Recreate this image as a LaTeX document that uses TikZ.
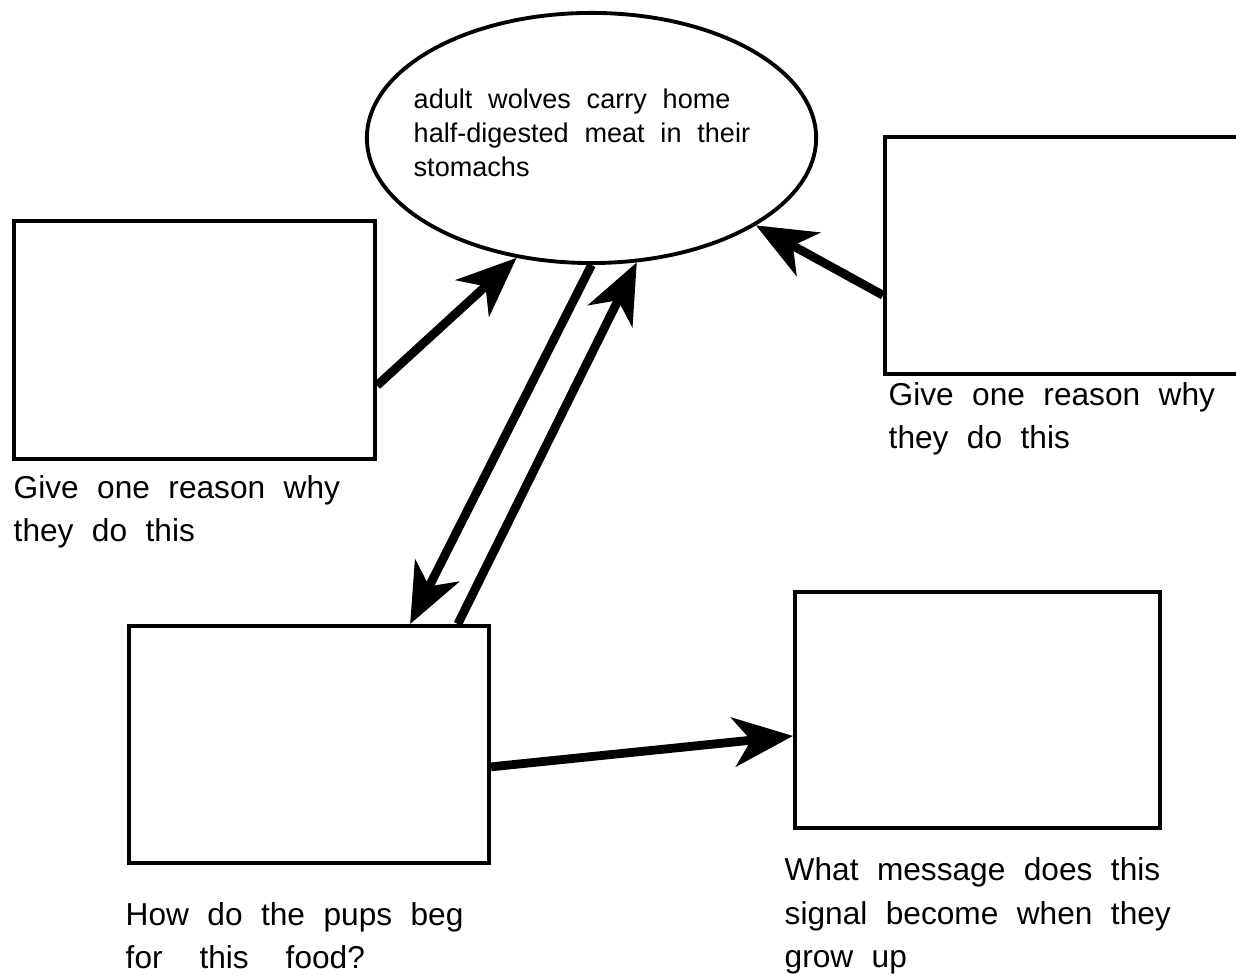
\documentclass[tikz,border=0pt]{standalone}
\usepackage{fontspec}
\setmainfont{Liberation Sans}
\newfontfamily\widesp[WordSpace=2.5]{Liberation Sans}
\newfontfamily\ovalsp[WordSpace=2.1]{Liberation Sans}
\usetikzlibrary{arrows.meta,shapes.geometric}

\tikzset{
  answerbox/.style={draw,line width=1.1pt,anchor=north west,inner sep=0pt},
  question/.style={anchor=base west,align=left,inner sep=0pt,
    font=\widesp\fontsize{9}{12.5}\selectfont},
  fat/.style={line width=2.5pt,-{Stealth[length=17pt,width=14pt,inset=5pt]}}
}

\begin{document}
\begin{tikzpicture}[x=0.01cm,y=-0.01cm]
\useasboundingbox (0,0) rectangle (1236,977);
\clip (0,0) rectangle (1236,977);
% what the adults do
\node[draw,ellipse,line width=1.1pt,minimum width=4.49cm,minimum height=2.5cm,inner sep=0pt] (meat) at (591.5,138) {};
% base anchor sits on the last line
\node[anchor=base west,align=left,inner sep=0pt,font=\ovalsp\fontsize{7.7}{9.8}\selectfont] (meattxt) at (413,177)
  {adult wolves carry home\\half-digested meat in their\\stomachs};
% empty boxes to write in
\node[answerbox,minimum width=3.61cm,minimum height=2.38cm] (reasonL) at (12,219) {};
\node[answerbox,minimum width=3.7cm,minimum height=2.37cm] (reasonR) at (883,135) {};
\node[answerbox,minimum width=3.6cm,minimum height=2.37cm] (pups) at (127,624) {};
\node[answerbox,minimum width=3.65cm,minimum height=2.36cm] (signal) at (793,590) {};
% questions under the boxes
\node[question] (qL) at (13,542) {Give one reason why\\ they do this};
\node[question] (qR) at (888,449) {Give one reason why\\they do this};
\node[question] (qP) at (125,969) {How do the pups beg\\for~ this~ food?};
\node[question] (qS) at (784,968) {What message does this\\signal become when they\\grow up};
% arrows
\draw[fat] (reasonL.346) -- (meat.238);
\draw[fat] (reasonR.192) -- (meat.332);
\draw[fat] (meat.270) -- (pups.50);
\draw[fat] (pups.39) -- (meat.290);
\draw[fat] (pups.353) -- (signal.188);
\end{tikzpicture}
\end{document}
